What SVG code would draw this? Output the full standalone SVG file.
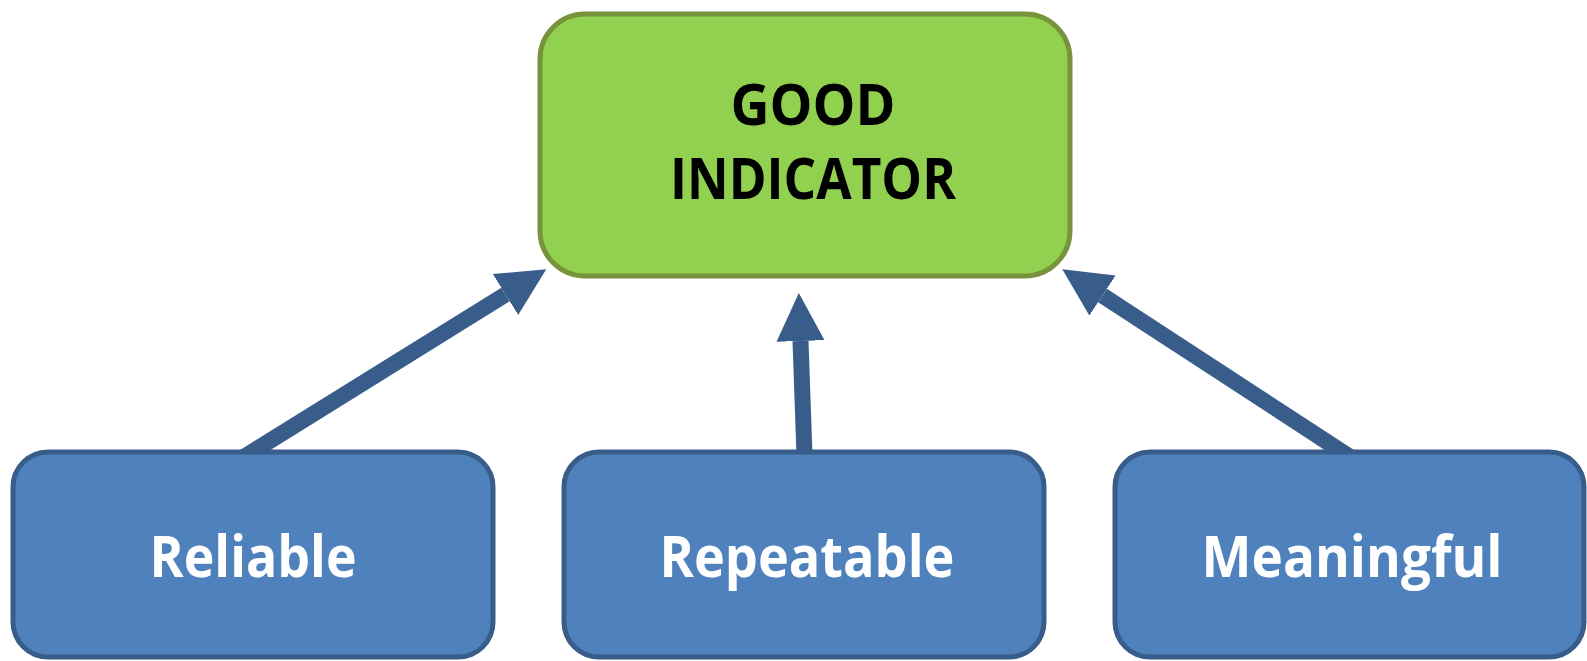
<svg xmlns="http://www.w3.org/2000/svg" width="1587" height="661" viewBox="0 0 1587 661">
  <style>
    .top { fill: #92D050; stroke: #77933C; stroke-width: 5; }
    .box { fill: #4F81BD; stroke: #385D8A; stroke-width: 5; }
    .lbl { font-family: "Open Sans", Lato, "Liberation Sans", sans-serif; font-weight: bold; font-size: 57px; text-anchor: middle; }
    .dark { fill: #000000; }
    .light { fill: #FFFFFF; }
    .conn { stroke: #385D8A; stroke-width: 16; fill: none; marker-end: url(#head); }
  </style>
  <defs>
    <marker id="head" markerUnits="userSpaceOnUse" markerWidth="48" markerHeight="48" refX="0" refY="24" orient="auto" viewBox="0 0 48 48">
      <path d="M0,0 L48,24 L0,48 Z" fill="#385D8A"/>
    </marker>
  </defs>
  <rect width="1587" height="661" fill="#FFFFFF"/>
  <g id="connectors">
    <line class="conn" x1="223" y1="470" x2="505.5" y2="294.5"/>
    <line class="conn" x1="805" y1="470" x2="800.5" y2="341"/>
    <line class="conn" x1="1370" y1="470" x2="1102.5" y2="295.5"/>
  </g>
  <g id="good-indicator">
    <rect class="top" x="540" y="14" width="530" height="262" rx="45" ry="45"/>
    <text class="lbl dark" x="813" y="125" textLength="165" lengthAdjust="spacingAndGlyphs">GOOD</text>
    <text class="lbl dark" x="813" y="199" textLength="286" lengthAdjust="spacingAndGlyphs">INDICATOR</text>
  </g>
  <g id="reliable">
    <rect class="box" x="13" y="452" width="480" height="205" rx="35" ry="35"/>
    <text class="lbl light" x="253" y="577" textLength="207" lengthAdjust="spacingAndGlyphs">Reliable</text>
  </g>
  <g id="repeatable">
    <rect class="box" x="564" y="452" width="480" height="205" rx="35" ry="35"/>
    <text class="lbl light" x="807" y="577" textLength="295" lengthAdjust="spacingAndGlyphs">Repeatable</text>
  </g>
  <g id="meaningful">
    <rect class="box" x="1115" y="452" width="469" height="205" rx="35" ry="35"/>
    <text class="lbl light" x="1352" y="577" textLength="301" lengthAdjust="spacingAndGlyphs">Meaningful</text>
  </g>
</svg>
